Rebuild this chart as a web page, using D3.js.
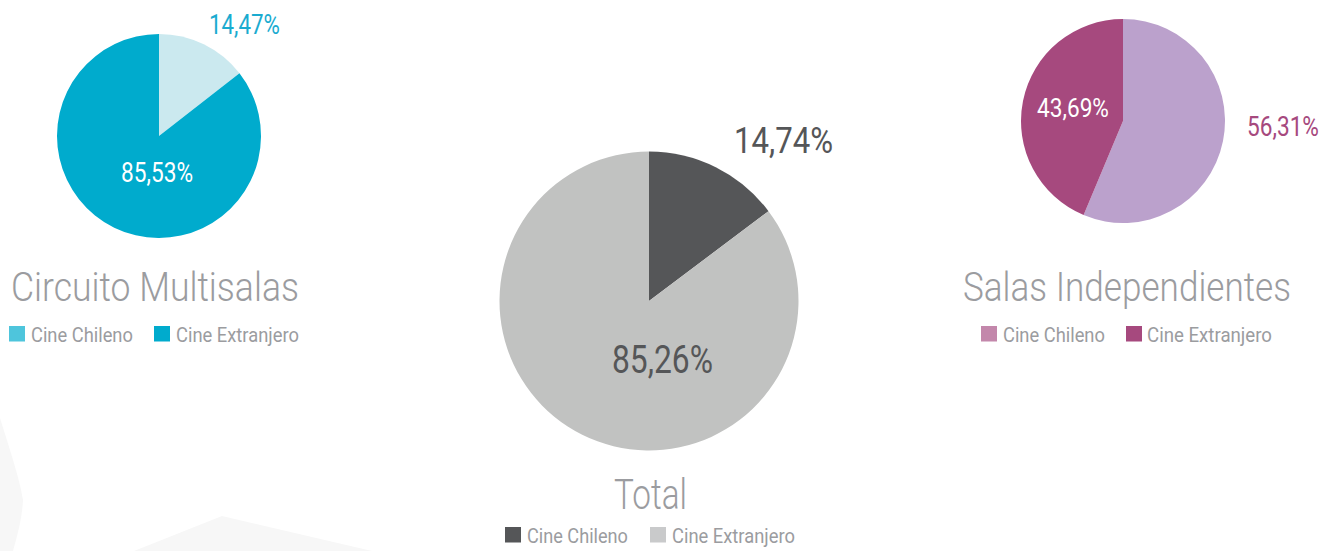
<!DOCTYPE html>
<html>
<head>
<meta charset="utf-8">
<script src="https://cdn.jsdelivr.net/npm/d3@7"></script>
<style>
  html, body { margin: 0; padding: 0; background: #ffffff; }
  svg { display: block; }
  text { font-family: Roboto, "Noto Sans", sans-serif; }
</style>
</head>
<body>
<svg id="chart" width="1332" height="551"></svg>
<script>
// ---- data ----
const categories = ["Cine Chileno", "Cine Extranjero"];
const multisalasValues = [14.47, 85.53];
const totalValues = [14.74, 85.26];
const independientesValues = [56.31, 43.69];
const chartTitles = ["Circuito Multisalas", "Total", "Salas Independientes"];

const fmt = v => d3.format(".2f")(v).replace(".", ",") + "%";

const svg = d3.select("#chart");

// condense a text horizontally so it spans width w starting at x
function condense(sel, x, y, w) {
  sel.attr("x", 0).attr("y", 0);
  const natural = sel.node().getComputedTextLength();
  const k = w / natural;
  sel.attr("transform", `translate(${x},${y}) scale(${k},1)`);
}

// faint background shapes
svg.append("path")
  .attr("d", "M0,418 C10,450 20,480 23,500 C22,520 16,540 13,551 L0,551 Z")
  .attr("fill", "#f7f7f7");
svg.append("path")
  .attr("d", "M134,551 L222,516 L372,551 Z")
  .attr("fill", "#f7f7f7");

const charts = [
  {
    values: multisalasValues, title: chartTitles[0],
    cx: 159, cy: 136, r: 102,
    sliceColors: ["#cbe9ef", "#00abcd"],
    legendColors: ["#4ec5dc", "#00abcd"],
    labels: [
      { x: 209, y: 34, w: 71, size: 27, color: "#1aabd0" },
      { x: 121, y: 182, w: 72, size: 28, color: "#ffffff" }
    ],
    titleX: 11, titleY: 301, titleW: 288, titleSize: 40,
    legendY: 326, legendItems: [{ sx: 9, tx: 31, tw: 102 }, { sx: 154, tx: 176, tw: 123 }]
  },
  {
    values: totalValues, title: chartTitles[1],
    cx: 649, cy: 301, r: 149.5,
    sliceColors: ["#555658", "#c1c2c1"],
    legendColors: ["#555658", "#c9cacb"],
    labels: [
      { x: 734, y: 153, w: 99, size: 37, color: "#555658" },
      { x: 612, y: 373, w: 101, size: 39, color: "#555658" }
    ],
    titleX: 614, titleY: 509, titleW: 73, titleSize: 43,
    legendY: 527, legendItems: [{ sx: 505, tx: 527, tw: 101 }, { sx: 650, tx: 672, tw: 123 }]
  },
  {
    values: independientesValues, title: chartTitles[2],
    cx: 1123, cy: 121, r: 102,
    sliceColors: ["#bba1cc", "#a6497e"],
    legendColors: ["#c387ab", "#a6497e"],
    labels: [
      { x: 1247, y: 136, w: 72, size: 27, color: "#a6497e" },
      { x: 1037, y: 117, w: 72, size: 26, color: "#ffffff" }
    ],
    titleX: 963, titleY: 301, titleW: 328, titleSize: 40,
    legendY: 326, legendItems: [{ sx: 981, tx: 1003, tw: 102 }, { sx: 1126, tx: 1147, tw: 125 }]
  }
];

const pie = d3.pie().sort(null).value(d => d);

charts.forEach(c => {
  const g = svg.append("g");
  const arc = d3.arc().innerRadius(0).outerRadius(c.r);
  const color = d3.scaleOrdinal().domain(categories).range(c.sliceColors);
  const legendColor = d3.scaleOrdinal().domain(categories).range(c.legendColors);
  const arcs = pie(c.values);

  g.append("g").attr("transform", `translate(${c.cx},${c.cy})`)
    .selectAll("path").data(arcs).join("path")
    .attr("d", arc)
    .attr("fill", (d, i) => color(categories[i]));

  // value labels
  arcs.forEach((d, i) => {
    const L = c.labels[i];
    const t = g.append("text")
      .attr("font-size", L.size)
      .style("font-weight", 400)
      .attr("fill", L.color)
      .text(fmt(d.data));
    condense(t, L.x, L.y, L.w);
  });

  // title
  const tt = g.append("text")
    .attr("font-size", c.titleSize)
    .style("font-weight", 300)
    .attr("fill", "#9b9ca0")
    .text(c.title);
  condense(tt, c.titleX, c.titleY, c.titleW);

  // legend
  categories.forEach((cat, i) => {
    const it = c.legendItems[i];
    g.append("rect")
      .attr("x", it.sx)
      .attr("y", c.legendY)
      .attr("width", 16).attr("height", 15.5)
      .attr("fill", legendColor(cat));
    const lt = g.append("text")
      .attr("font-size", 21)
      .style("font-weight", 400)
      .attr("fill", "#9b9ca0")
      .text(cat);
    condense(lt, it.tx, c.legendY + 15.5, it.tw);
  });
});
</script>
</body>
</html>
